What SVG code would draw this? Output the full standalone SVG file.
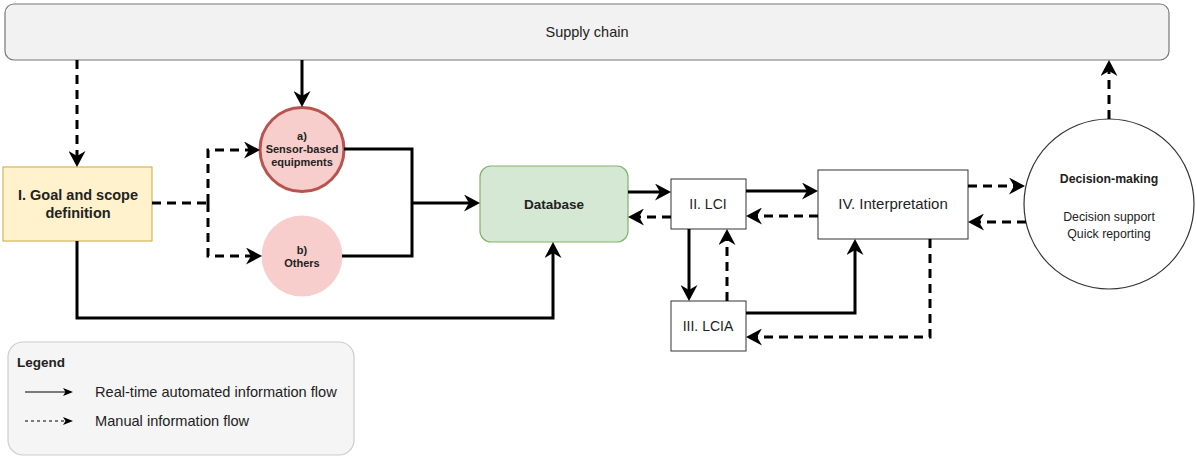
<svg xmlns="http://www.w3.org/2000/svg" width="1197" height="457" viewBox="0 0 1197 457">
<defs>
<marker id="arr" markerUnits="userSpaceOnUse" markerWidth="16" markerHeight="17" viewBox="0 0 16 17" refX="10" refY="8.5" orient="auto">
<path d="M0,0 L16,8.5 L0,17 L5,8.5 Z" fill="#000"/>
</marker>
<marker id="arrs" markerUnits="userSpaceOnUse" markerWidth="10" markerHeight="10" viewBox="0 0 10 10" refX="8" refY="5" orient="auto">
<path d="M0,1 L10,5 L0,9 L2.5,5 Z" fill="#000"/>
</marker>
<style>
.t{font-family:"Liberation Sans",Arial,sans-serif;fill:#222;text-anchor:middle}
.b{font-weight:bold}
.s{fill:none;stroke:#000;stroke-width:3;marker-end:url(#arr)}
.d{fill:none;stroke:#000;stroke-width:3;stroke-dasharray:9 6;marker-end:url(#arr)}
.n{fill:none;stroke:#000;stroke-width:3}
.box{fill:#fff;stroke:#333;stroke-width:1}
</style>
</defs>
<rect width="1197" height="457" fill="#fff"/>
<g id="supply">
<rect x="5" y="4" width="1164" height="56" rx="9" fill="#f2f2f2" stroke="#777" stroke-width="1.2"/>
<text class="t" x="587" y="37" font-size="14.5">Supply chain</text>
</g>
<g id="goal">
<rect x="3" y="167" width="149" height="74" fill="#fff2cc" stroke="#d6b656" stroke-width="1.2"/>
<text class="t b" x="78" y="200" font-size="14.5">I. Goal and scope</text>
<text class="t b" x="78" y="218" font-size="14.5">definition</text>
</g>
<g id="sensor">
<circle cx="302" cy="149.5" r="42" fill="#f8cecc" stroke="#b85450" stroke-width="3"/>
<text class="t b" x="302" y="140" font-size="11">a)</text>
<text class="t b" x="302" y="153" font-size="11">Sensor-based</text>
<text class="t b" x="302" y="166" font-size="11">equipments</text>
</g>
<g id="others">
<circle cx="302" cy="256" r="40.5" fill="#f8cecc"/>
<text class="t b" x="302" y="254" font-size="11">b)</text>
<text class="t b" x="302" y="267" font-size="11">Others</text>
</g>
<g id="database">
<rect x="480" y="166" width="148" height="76" rx="11" fill="#d5e8d4" stroke="#82b366" stroke-width="1.2"/>
<text class="t b" x="554" y="209" font-size="13.5">Database</text>
</g>
<g id="lci">
<rect class="box" x="671" y="179" width="75" height="50"/>
<text class="t" x="708" y="209" font-size="14">II. LCI</text>
</g>
<g id="lcia">
<rect class="box" x="671" y="301" width="75" height="50"/>
<text class="t" x="708" y="331" font-size="14">III. LCIA</text>
</g>
<g id="interpretation">
<rect class="box" x="818" y="170" width="150" height="69"/>
<text class="t" x="893" y="209" font-size="15">IV. Interpretation</text>
</g>
<g id="decision">
<circle cx="1109" cy="204" r="85" fill="#fff" stroke="#333" stroke-width="1.2"/>
<text class="t b" x="1109" y="183" font-size="12.3">Decision-making</text>
<text class="t" x="1109" y="221" font-size="12.3">Decision support</text>
<text class="t" x="1109" y="238" font-size="12.3">Quick reporting</text>
</g>
<g id="connectors">
<path class="d" d="M77,60 V161"/>
<path class="s" d="M302,60 V101"/>
<path class="n" d="M152,203 H208" stroke-dasharray="9 6"/>
<path class="d" d="M208,203 V150 H254"/>
<path class="d" d="M208,203 V256 H256"/>
<path class="n" d="M344,149 H412 V256 H342"/>
<path class="s" d="M412,203 H474"/>
<path class="s" d="M77,241 V318 H553 V248"/>
<path class="s" d="M628,192 H665"/>
<path class="d" d="M671,217 H634"/>
<path class="s" d="M746,191 H812"/>
<path class="d" d="M818,216 H752"/>
<path class="s" d="M689,229 V295"/>
<path class="d" d="M727,301 V235"/>
<path class="s" d="M746,313 H855 V245"/>
<path class="d" d="M930,239 V337 H752"/>
<path class="d" d="M968,186 H1019"/>
<path class="d" d="M1026,222 H974"/>
<path class="d" d="M1109,119 V66"/>
</g>
<g id="legend">
<rect x="8" y="342" width="346" height="113" rx="15" fill="#f5f5f5" stroke="#ccc" stroke-width="1.2"/>
<text class="t b" x="17" y="367" font-size="13.5" style="text-anchor:start">Legend</text>
<path d="M25,392 H71" stroke="#000" stroke-width="1.2" fill="none" marker-end="url(#arrs)"/>
<text class="t" x="95" y="397" font-size="14.6" style="text-anchor:start">Real-time automated information flow</text>
<path d="M25,421 H71" stroke="#000" stroke-width="1.2" stroke-dasharray="3 3" fill="none" marker-end="url(#arrs)"/>
<text class="t" x="95" y="426" font-size="14.6" style="text-anchor:start">Manual information flow</text>
</g>
</svg>
